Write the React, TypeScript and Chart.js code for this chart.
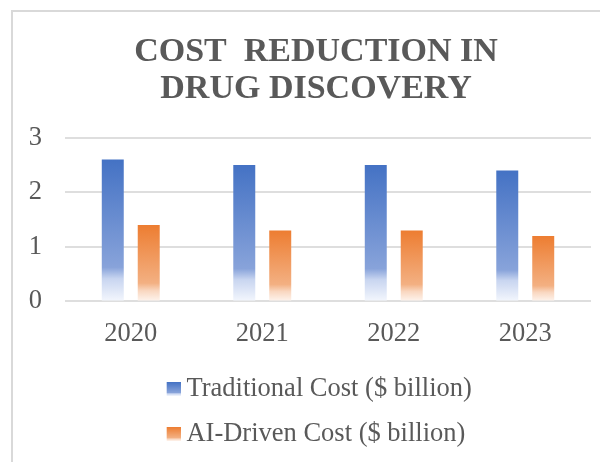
import React, { useEffect, useRef } from "react";
import { Chart, registerables } from "chart.js";

Chart.register(...registerables);

const categories = ["2020", "2021", "2022", "2023"];
const traditionalCost = [2.6, 2.5, 2.5, 2.4];
const aiDrivenCost = [1.4, 1.3, 1.3, 1.2];
const seriesNames = ["Traditional Cost ($ billion)", "AI-Driven Cost ($ billion)"];
const titleLines = ["COST  REDUCTION IN", "DRUG DISCOVERY"];

const FONT = "'Liberation Serif', 'Times New Roman', serif";
const TEXT = "#595959";

const blueStops: [number, string][] = [
  [0, "rgb(68,114,196)"],
  [0.76, "rgb(136,163,218)"],
  [0.84, "rgb(200,213,240)"],
  [1, "rgb(244,247,253)"],
];
const orangeStops: [number, string][] = [
  [0, "rgb(237,125,49)"],
  [0.76, "rgb(243,176,130)"],
  [0.86, "rgb(249,215,192)"],
  [1, "rgb(254,245,239)"],
];

function barGradient(stops: [number, string][]) {
  return (ctx: any) => {
    const chart = ctx.chart;
    if (!chart.chartArea || ctx.type !== "data" || !ctx.parsed) return stops[0][1];
    const y = chart.scales.y;
    const top = y.getPixelForValue(ctx.parsed.y);
    const base = y.getPixelForValue(0);
    const g = chart.ctx.createLinearGradient(0, top, 0, base);
    stops.forEach(([o, c]) => g.addColorStop(o, c));
    return g;
  };
}

function makeMarker(stops: [number, string][]) {
  const c = document.createElement("canvas");
  c.width = 28;
  c.height = 14;
  const x = c.getContext("2d")!;
  const g = x.createLinearGradient(0, 0, 0, 14);
  stops.forEach(([o, col]) => g.addColorStop(o, col));
  x.fillStyle = g;
  x.fillRect(14, 0, 14, 14);
  return c;
}

export default function App() {
  const ref = useRef<HTMLCanvasElement>(null);
  useEffect(() => {
    if (!ref.current) return;
    const markers = [makeMarker(blueStops), makeMarker(orangeStops)];
    const equalRows = {
      id: "equalRows",
      beforeDraw(chart: any) {
        const l = chart.legend;
        if (l && l.lineWidths && l.lineWidths.length) {
          const m = Math.max(...l.lineWidths);
          l.lineWidths = l.lineWidths.map(() => m);
        }
      },
    };
    const chart = new Chart(ref.current, {
      type: "bar",
      data: {
        labels: categories,
        datasets: [
          {
            label: seriesNames[0],
            data: traditionalCost,
            backgroundColor: barGradient(blueStops),
            categoryPercentage: 0.547,
            barPercentage: 0.611,
          },
          {
            label: seriesNames[1],
            data: aiDrivenCost,
            backgroundColor: barGradient(orangeStops),
            categoryPercentage: 0.547,
            barPercentage: 0.611,
          },
        ],
      },
      options: {
        responsive: false,
        animation: false,
        layout: { padding: { left: 15.75, right: 15.75, top: 0, bottom: 14.75 } },
        plugins: {
          tooltip: { enabled: false },
          title: {
            display: true,
            text: titleLines,
            color: TEXT,
            font: { family: FONT, size: 34, weight: "bold", lineHeight: 1.09 },
            padding: { top: 21.5, bottom: 30 },
          },
          legend: {
            display: true,
            position: "bottom",
            align: "center",
            labels: {
              color: TEXT,
              font: { family: FONT, size: 26.5 },
              padding: 18.5,
              usePointStyle: true,
              pointStyleWidth: 13,
              boxHeight: 14,
              generateLabels: (c: any) => {
                const items = Chart.defaults.plugins.legend.labels.generateLabels(c);
                return items.map((it: any, i: number) => ({ ...it, pointStyle: markers[i] }));
              },
            },
          },
        },
        scales: {
          x: {
            grid: { display: false, drawTicks: false },
            border: { display: false },
            ticks: {
              color: TEXT,
              font: { family: FONT, size: 26.5, lineHeight: 1.2 },
              padding: 16.5,
            },
            afterFit: (s: any) => {
              s.height -= 9;
            },
          },
          y: {
            min: 0,
            max: 3,
            ticks: {
              stepSize: 1,
              color: TEXT,
              font: { family: FONT, size: 26.5 },
              padding: 23,
            },
            grid: { color: "#dedede", lineWidth: 2, drawTicks: false },
            border: { display: false },
            afterFit: (s: any) => {
              s.width -= 23;
            },
          },
          spacer: {
            type: "linear",
            position: "right",
            display: true,
            ticks: { display: false },
            grid: { display: false, drawTicks: false },
            border: { display: false },
            afterFit: (s: any) => {
              s.width = 12.25;
            },
          },
        },
      },
      plugins: [equalRows],
    });
    chart.draw();
    return () => chart.destroy();
  }, []);

  return (
    <div style={{ position: "relative", width: 600, height: 454, overflow: "hidden", background: "#fff" }}>
      <div
        style={{
          position: "absolute",
          left: 3,
          top: 2,
          width: 606,
          height: 460,
          borderTop: "2px solid #d9d9d9",
          borderLeft: "2px solid #d9d9d9",
        }}
      >
        <canvas ref={ref} width={606} height={460} style={{ display: "block" }} />
      </div>
    </div>
  );
}
